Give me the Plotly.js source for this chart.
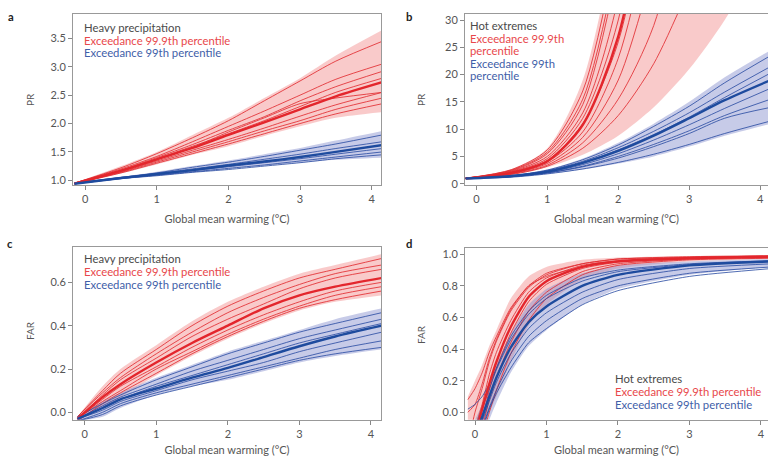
<!DOCTYPE html>
<html>
<head>
<meta charset="utf-8">
<script src="https://cdn.plot.ly/plotly-3.0.1.min.js"></script>
<style>html,body{margin:0;padding:0;background:#fff}#chart{width:768px;height:456px}</style>
</head>
<body>
<div id="chart"></div>
<script>
// ---------- DATA ----------
// Panel a: PR, heavy precipitation
const xA = [-0.15, 0.5, 1, 1.5, 2, 2.5, 3, 3.5, 4.15];
const aRedUpper  = [0.95, 1.25, 1.50, 1.80, 2.10, 2.45, 2.80, 3.20, 3.65];
const aRedLower  = [0.93, 1.12, 1.28, 1.45, 1.60, 1.78, 1.95, 2.10, 2.20];
const aRedMedian = [0.94, 1.17, 1.37, 1.57, 1.80, 2.02, 2.25, 2.48, 2.73];
const aRedLines = [
  [0.95, 1.22, 1.47, 1.75, 2.05, 2.40, 2.75, 3.10, 3.45],
  [0.95, 1.20, 1.42, 1.68, 1.95, 2.22, 2.50, 2.78, 3.05],
  [0.95, 1.18, 1.40, 1.63, 1.88, 2.12, 2.40, 2.65, 2.92],
  [0.95, 1.17, 1.38, 1.60, 1.82, 2.05, 2.30, 2.55, 2.80],
  [0.94, 1.16, 1.36, 1.58, 1.85, 2.10, 2.35, 2.45, 2.55],
  [0.94, 1.15, 1.34, 1.53, 1.72, 1.92, 2.13, 2.33, 2.55],
  [0.94, 1.14, 1.32, 1.50, 1.68, 1.87, 2.05, 2.25, 2.45],
  [0.94, 1.13, 1.30, 1.47, 1.64, 1.82, 2.00, 2.17, 2.35]
];
const aBlueUpper  = [0.95, 1.06, 1.15, 1.25, 1.35, 1.46, 1.57, 1.70, 1.87];
const aBlueLower  = [0.93, 1.02, 1.08, 1.14, 1.20, 1.26, 1.31, 1.36, 1.40];
const aBlueMedian = [0.94, 1.04, 1.11, 1.18, 1.26, 1.33, 1.41, 1.50, 1.62];
const aBlueLines = [
  [0.95, 1.05, 1.13, 1.23, 1.32, 1.42, 1.53, 1.64, 1.80],
  [0.95, 1.05, 1.12, 1.20, 1.28, 1.37, 1.46, 1.56, 1.68],
  [0.94, 1.04, 1.10, 1.17, 1.24, 1.31, 1.38, 1.46, 1.56],
  [0.94, 1.03, 1.09, 1.15, 1.21, 1.27, 1.34, 1.41, 1.50],
  [0.94, 1.03, 1.08, 1.14, 1.19, 1.25, 1.31, 1.38, 1.45]
];

// Panel b: PR, hot extremes
const xB = [-0.15, 0.5, 1, 1.5, 2, 2.5, 3, 3.5, 4.15];
const bRedUpper  = [1.0, 2.7, 6.5, 19, 48];
const bRedLower  = [0.9, 1.6, 3.0, 5.3, 8.8, 14, 21, 30, 45];
const bRedMedian = [0.95, 2.0, 4.1, 10.8, 27, 60];
const bRedLines = [
  [1.0, 2.6, 6.2, 17, 45],
  [1.0, 2.5, 5.8, 15.5, 42],
  [1.0, 2.4, 5.5, 14.5, 40],
  [1.0, 2.3, 5.0, 13, 34, 80],
  [1.0, 2.2, 4.6, 12, 30, 70],
  [1.0, 2.1, 4.3, 11, 26, 58],
  [1.0, 2.0, 4.0, 9.5, 23, 50],
  [1.0, 1.9, 3.7, 8.5, 19, 40],
  [1.0, 1.8, 3.4, 7.5, 15.5, 29, 55],
  [1.0, 1.7, 3.2, 6.5, 12.5, 22, 36]
];
const bBlueUpper  = [1.0, 1.5, 2.6, 4.6, 7.5, 11, 15, 19.5, 24.5];
const bBlueLower  = [0.9, 1.2, 1.8, 2.6, 3.7, 5.0, 6.8, 8.8, 11];
const bBlueMedian = [0.95, 1.4, 2.2, 3.8, 6.0, 8.8, 12, 15.3, 19];
const bBlueLines = [
  [1.0, 1.5, 2.5, 4.4, 7.1, 10.5, 14.2, 18.5, 23.5],
  [1.0, 1.45, 2.4, 4.1, 6.6, 9.6, 13, 16.8, 21.5],
  [1.0, 1.4, 2.3, 3.9, 6.2, 9.0, 12.2, 15.8, 20.3],
  [1.0, 1.35, 2.1, 3.5, 5.5, 8.0, 10.8, 13.8, 17.5],
  [1.0, 1.3, 2.0, 3.2, 5.0, 7.2, 9.7, 12.5, 15.5],
  [1.0, 1.3, 1.95, 3.1, 4.7, 6.8, 9.2, 12, 14],
  [0.9, 1.2, 1.8, 2.7, 3.9, 5.4, 7.2, 9.2, 11.5]
];

// Panel c: FAR, heavy precipitation
const xC = [-0.1, 0.25, 0.5, 1, 1.5, 2, 2.5, 3, 3.5, 4.15];
const cRedUpper  = [-0.02, 0.12, 0.20, 0.31, 0.42, 0.51, 0.58, 0.64, 0.68, 0.73];
const cRedLower  = [-0.04, 0.02, 0.07, 0.17, 0.26, 0.34, 0.41, 0.47, 0.51, 0.54];
const cRedMedian = [-0.03, 0.07, 0.13, 0.23, 0.32, 0.40, 0.48, 0.54, 0.58, 0.62];
const cRedLines = [
  [-0.02, 0.10, 0.18, 0.29, 0.40, 0.49, 0.56, 0.62, 0.66, 0.71],
  [-0.02, 0.09, 0.16, 0.27, 0.37, 0.46, 0.53, 0.59, 0.64, 0.68],
  [-0.03, 0.08, 0.15, 0.25, 0.35, 0.43, 0.50, 0.57, 0.62, 0.66],
  [-0.03, 0.06, 0.12, 0.21, 0.30, 0.38, 0.45, 0.51, 0.56, 0.60],
  [-0.03, 0.05, 0.10, 0.20, 0.28, 0.36, 0.43, 0.49, 0.54, 0.58],
  [-0.04, 0.04, 0.09, 0.18, 0.27, 0.35, 0.42, 0.48, 0.52, 0.56]
];
const cBlueUpper  = [-0.02, 0.05, 0.09, 0.16, 0.22, 0.28, 0.33, 0.38, 0.43, 0.48];
const cBlueLower  = [-0.04, -0.02, 0.02, 0.08, 0.12, 0.15, 0.19, 0.23, 0.26, 0.29];
const cBlueMedian = [-0.03, 0.02, 0.06, 0.11, 0.16, 0.205, 0.255, 0.305, 0.35, 0.40];
const cBlueLines = [
  [-0.02, 0.04, 0.08, 0.15, 0.21, 0.27, 0.32, 0.37, 0.41, 0.46],
  [-0.03, 0.03, 0.07, 0.13, 0.19, 0.24, 0.29, 0.34, 0.38, 0.43],
  [-0.03, 0.02, 0.06, 0.12, 0.17, 0.22, 0.27, 0.32, 0.36, 0.41],
  [-0.03, 0.01, 0.05, 0.10, 0.15, 0.19, 0.23, 0.28, 0.32, 0.37],
  [-0.04, 0.00, 0.04, 0.09, 0.13, 0.17, 0.21, 0.25, 0.29, 0.33],
  [-0.04, -0.01, 0.03, 0.08, 0.12, 0.16, 0.20, 0.24, 0.27, 0.30]
];

// Panel d: FAR, hot extremes
const xD = [-0.1, 0, 0.1, 0.2, 0.3, 0.5, 0.75, 1, 1.5, 2, 3, 4.15];
const dRedUpper  = [0.10, 0.20, 0.30, 0.42, 0.52, 0.72, 0.86, 0.92, 0.965, 0.98, 0.99, 0.995];
const dRedLower  = [-0.20, -0.20, -0.10, 0.00, 0.10, 0.32, 0.55, 0.68, 0.84, 0.91, 0.955, 0.97];
const dRedMedian = [-0.30, -0.15, 0.02, 0.18, 0.32, 0.54, 0.73, 0.83, 0.92, 0.955, 0.975, 0.985];
const dRedLines = [
  [0.08, 0.15, 0.25, 0.38, 0.48, 0.66, 0.80, 0.88, 0.94, 0.97, 0.985, 0.99],
  [-0.20, 0.00, 0.15, 0.32, 0.45, 0.64, 0.79, 0.87, 0.94, 0.97, 0.98, 0.99],
  [-0.30, -0.10, 0.05, 0.24, 0.38, 0.58, 0.76, 0.85, 0.93, 0.96, 0.98, 0.985],
  [-0.40, -0.20, -0.05, 0.14, 0.28, 0.50, 0.70, 0.81, 0.91, 0.95, 0.975, 0.98],
  [-0.40, -0.25, -0.10, 0.08, 0.22, 0.44, 0.64, 0.76, 0.89, 0.94, 0.97, 0.98],
  [-0.50, -0.30, -0.15, 0.00, 0.14, 0.37, 0.58, 0.72, 0.87, 0.93, 0.965, 0.975],
  [0.00, 0.05, 0.18, 0.34, 0.46, 0.65, 0.80, 0.86, 0.92, 0.955, 0.975, 0.985]
];
const dBlueUpper  = [-0.20, -0.05, 0.05, 0.18, 0.30, 0.50, 0.68, 0.78, 0.88, 0.93, 0.955, 0.97];
const dBlueLower  = [-0.40, -0.30, -0.20, -0.05, 0.06, 0.25, 0.42, 0.52, 0.68, 0.78, 0.87, 0.92];
const dBlueMedian = [-0.30, -0.15, -0.03, 0.10, 0.22, 0.41, 0.57, 0.67, 0.80, 0.87, 0.93, 0.955];
const dBlueLines = [
  [0.02, 0.05, 0.10, 0.18, 0.28, 0.48, 0.64, 0.74, 0.85, 0.90, 0.94, 0.96],
  [-0.25, -0.10, 0.02, 0.15, 0.27, 0.46, 0.62, 0.72, 0.83, 0.89, 0.935, 0.955],
  [-0.35, -0.20, -0.06, 0.07, 0.19, 0.37, 0.53, 0.63, 0.76, 0.84, 0.91, 0.94],
  [-0.40, -0.25, -0.10, 0.03, 0.14, 0.32, 0.48, 0.58, 0.72, 0.80, 0.88, 0.92],
  [-0.40, -0.25, -0.12, 0.02, 0.12, 0.28, 0.44, 0.53, 0.68, 0.77, 0.86, 0.91]
];

// Text
const xTitle = 'Global mean warming (°C)';
const yTitles = ['PR', 'PR', 'FAR', 'FAR'];
const panelLetters = ['a', 'b', 'c', 'd'];

// ---------- STYLE ----------
const RED_LINE = 'rgba(226,46,50,0.85)';
const RED_MED = '#e3262c';
const RED_FILL = 'rgba(244,150,150,0.5)';
const BLUE_LINE = 'rgba(38,72,160,0.8)';
const BLUE_MED = '#1e4b9e';
const BLUE_FILL = 'rgba(130,140,205,0.45)';
const FONT = 'Lato, "Open Sans", sans-serif';
const GREY = '#555';

const traces = [];
function addPanel(xs, ax, redU, redL, redM, redLines, blueU, blueL, blueM, blueLines, smooth) {
  const xa = 'x' + ax, ya = 'y' + ax;
  const base = {x: xs, xaxis: xa, yaxis: ya, mode: 'lines', hoverinfo: 'skip', showlegend: false};
  const shp = {shape: 'spline', smoothing: smooth};
  // bands
  traces.push(Object.assign({}, base, {y: redL, line: Object.assign({width: 0, color: RED_FILL}, shp)}));
  traces.push(Object.assign({}, base, {y: redU, fill: 'tonexty', fillcolor: RED_FILL, line: Object.assign({width: 0, color: RED_FILL}, shp)}));
  traces.push(Object.assign({}, base, {y: blueL, line: Object.assign({width: 0, color: BLUE_FILL}, shp)}));
  traces.push(Object.assign({}, base, {y: blueU, fill: 'tonexty', fillcolor: BLUE_FILL, line: Object.assign({width: 0, color: BLUE_FILL}, shp)}));
  // thin lines
  redLines.forEach(v => traces.push(Object.assign({}, base, {y: v, line: Object.assign({width: 1, color: RED_LINE}, shp)})));
  blueLines.forEach(v => traces.push(Object.assign({}, base, {y: v, line: Object.assign({width: 1, color: BLUE_LINE}, shp)})));
  // medians
  traces.push(Object.assign({}, base, {y: redM, line: Object.assign({width: 2.4, color: RED_MED}, shp)}));
  traces.push(Object.assign({}, base, {y: blueM, line: Object.assign({width: 2.4, color: BLUE_MED}, shp)}));
}
addPanel(xA, '', aRedUpper, aRedLower, aRedMedian, aRedLines, aBlueUpper, aBlueLower, aBlueMedian, aBlueLines, 0.8);
addPanel(xB, '2', bRedUpper, bRedLower, bRedMedian, bRedLines, bBlueUpper, bBlueLower, bBlueMedian, bBlueLines, 0.8);
addPanel(xC, '3', cRedUpper, cRedLower, cRedMedian, cRedLines, cBlueUpper, cBlueLower, cBlueMedian, cBlueLines, 0.8);
addPanel(xD, '4', dRedUpper, dRedLower, dRedMedian, dRedLines, dBlueUpper, dBlueLower, dBlueMedian, dBlueLines, 0.6);

const W = 768, H = 456;
const px = v => v / W, py = v => 1 - v / H;

function xaxis(domain, range, anchor) {
  return {
    domain: domain, range: range, anchor: anchor,
    tickvals: [0, 1, 2, 3, 4], ticks: 'outside', ticklen: 4, tickcolor: '#888',
    showline: true, linecolor: '#999', linewidth: 1, mirror: true,
    showgrid: false, zeroline: false,
    tickfont: {family: FONT, size: 11, color: GREY},
    title: {text: xTitle, font: {family: FONT, size: 11, color: GREY}, standoff: 11}
  };
}
function yaxis(domain, range, anchor, tickvals, fmt, mirror) {
  return {
    domain: domain, range: range, anchor: anchor,
    tickvals: tickvals, tickformat: fmt, ticks: 'outside', ticklen: 4, tickcolor: '#888',
    showline: true, linecolor: '#999', linewidth: 1, mirror: mirror,
    showgrid: false, zeroline: false,
    tickfont: {family: FONT, size: 11, color: GREY}
  };
}
const dxL = [px(73), px(381)], dxR = [px(465), 1];
const dyT = [py(185), py(14)], dyB = [py(419.7), py(247)], dyBd = [py(419.7), py(248)];

function ann(text, x, y, color, extra) {
  return Object.assign({text: text, x: px(x), y: py(y), xref: 'paper', yref: 'paper',
    xanchor: 'left', yanchor: 'middle', showarrow: false,
    font: {family: FONT, size: 11.3, color: color}}, extra || {});
}
function ytitle(text, x, y) {
  return ann(text, x, y, GREY, {xanchor: 'center', textangle: -90, font: {family: FONT, size: 10, color: GREY}});
}
const TXT_DARK = '#4a4a4a', TXT_RED = '#e8474b', TXT_BLUE = '#3f5ea8';
const annotations = [
  ann('<b>' + panelLetters[0] + '</b>', 6, 17, '#222'),
  ann('<b>' + panelLetters[1] + '</b>', 404, 17, '#222'),
  ann('<b>' + panelLetters[2] + '</b>', 5, 243, '#222'),
  ann('<b>' + panelLetters[3] + '</b>', 404, 243, '#222'),
  ytitle(yTitles[0], 30, 100),
  ytitle(yTitles[1], 421, 100),
  ytitle(yTitles[2], 30, 331),
  ytitle(yTitles[3], 421, 335),
  ann('Heavy precipitation', 82, 27, TXT_DARK),
  ann('Exceedance 99.9th percentile', 82, 40.5, TXT_RED),
  ann('Exceedance 99th percentile', 82, 53, TXT_BLUE),
  ann('Hot extremes', 468, 25, TXT_DARK),
  ann('Exceedance 99.9th', 468, 38, TXT_RED),
  ann('percentile', 468, 50, TXT_RED),
  ann('Exceedance 99th', 468, 63, TXT_BLUE),
  ann('percentile', 468, 75, TXT_BLUE),
  ann('Heavy precipitation', 82, 258, TXT_DARK),
  ann('Exceedance 99.9th percentile', 82, 271.5, TXT_RED),
  ann('Exceedance 99th percentile', 82, 284.5, TXT_BLUE),
  ann('Hot extremes', 613, 378, TXT_DARK),
  ann('Exceedance 99.9th percentile', 613, 391.5, TXT_RED),
  ann('Exceedance 99th percentile', 613, 404.5, TXT_BLUE)
];

const layout = {
  width: W, height: H, margin: {l: 0, r: 0, t: 0, b: 0},
  paper_bgcolor: '#fff', plot_bgcolor: '#fff', showlegend: false,
  font: {family: FONT},
  xaxis: xaxis(dxL, [-0.17, 4.13], 'y'),
  yaxis: yaxis(dyT, [0.917, 3.93], 'x', [1.0, 1.5, 2.0, 2.5, 3.0, 3.5], '.1f', true),
  xaxis2: xaxis(dxR, [-0.16, 4.11], 'y2'),
  yaxis2: yaxis(dyT, [-0.24, 31.1], 'x2', [0, 5, 10, 15, 20, 25, 30], 'd', false),
  xaxis3: xaxis(dxL, [-0.163, 4.14], 'y3'),
  yaxis3: yaxis(dyB, [-0.034, 0.763], 'x3', [0.0, 0.2, 0.4, 0.6], '.1f', true),
  xaxis4: xaxis(dxR, [-0.14, 4.10], 'y4'),
  yaxis4: yaxis(dyBd, [-0.047, 1.04], 'x4', [0.0, 0.2, 0.4, 0.6, 0.8, 1.0], '.1f', false),
  annotations: annotations
};

Plotly.newPlot('chart', traces, layout, {staticPlot: true, displayModeBar: false});
</script>
</body>
</html>
